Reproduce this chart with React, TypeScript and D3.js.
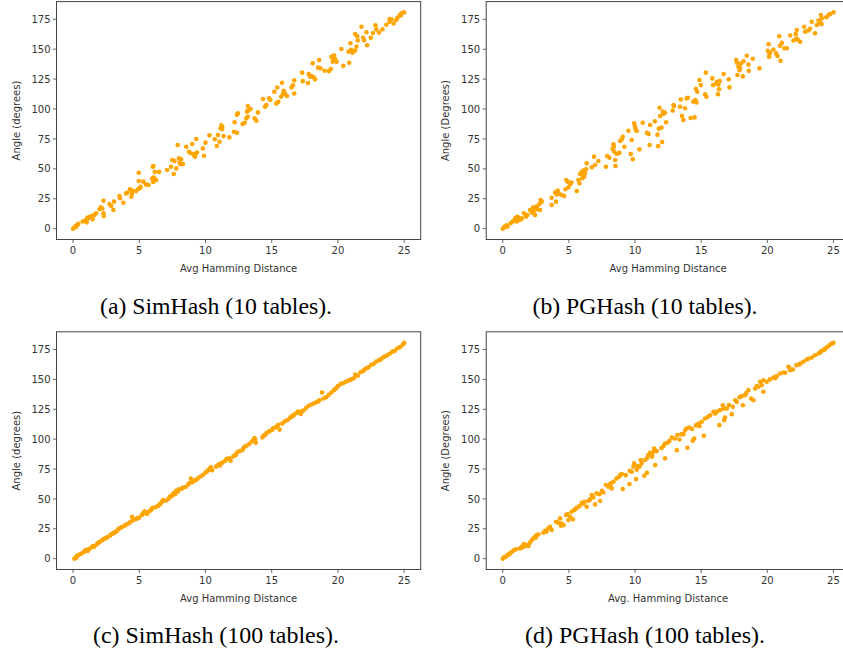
import React from "react";
import * as d3 from "d3";

// ---------- data ----------
const xTicks = [0, 5, 10, 15, 20, 25];
const yTicks = [0, 25, 50, 75, 100, 125, 150, 175];

const simHash10: [number, number][] = [
  [0, 0], [0.1, 1], [0.18, 2], [0.3, 3], [0.4, 4], [0.73, 6], [0.93, 7], [1.03, 5.3], [1.13, 8.4], [1.23, 9.8],
  [1.39, 10.6], [1.49, 7.8], [1.6, 11.4], [1.74, 12.8], [2, 16.2], [2.1, 17.8], [2.3, 23.4], [2.3, 12.8], [2.32, 10.6], [2.75, 20.6],
  [2.88, 19], [3.05, 15.6], [3.1, 22.6], [3.5, 27.3], [3.55, 25.4], [3.8, 21.7], [4, 29.5], [4.1, 30], [4.3, 33], [4.4, 26.7],
  [4.45, 29.5], [4.76, 31.5], [4.9, 33], [4.96, 46.8], [4.96, 39.8], [5.1, 35], [5.3, 39.3], [5.5, 37], [5.7, 36.5], [5.97, 42],
  [6.02, 51.8], [6.07, 52.4], [6.1, 42.8], [6.17, 47.5], [6.27, 40.6], [6.5, 47.5], [7.1, 49], [7.4, 51.8], [7.5, 57.4], [7.66, 56.5],
  [7.6, 45.7], [7.8, 50.4], [7.9, 69.9], [8.0, 58.8], [8.1, 54], [8.16, 58], [8.3, 54], [8.55, 68.5], [8.75, 64.3], [8.9, 63],
  [9, 70.8], [9.1, 62.1], [9.2, 60.2], [9.3, 75], [9.35, 63.6], [9.8, 67.1], [9.88, 61], [10, 71.9], [10.3, 78], [10.7, 74.7],
  [10.86, 69.1], [10.94, 78.3], [11.06, 72.7], [11.14, 83.9], [11.2, 86.4], [11.27, 85], [11.37, 77.4], [11.8, 76.3], [12.15, 81], [12.2, 88.9],
  [12.37, 95.3], [12.45, 96.4], [12.37, 80.2], [12.8, 87.5], [12.96, 88.6], [13.08, 92.2], [13.13, 97.8], [13.2, 102.5], [13.2, 93.6], [13.4, 100],
  [13.71, 92.2], [13.84, 90.3], [13.96, 97.2], [14.34, 108.4], [14.5, 102], [14.6, 103.3], [14.8, 108.9], [14.9, 107.5], [15.2, 114.5], [15.42, 118],
  [15.35, 104.7], [15.5, 106], [15.78, 122], [15.72, 110.3], [15.9, 115.3], [16, 113], [16.15, 110.9], [16.5, 118], [16.6, 119.8], [16.7, 124],
  [16.7, 113], [17.3, 130.4], [17.35, 123.3], [17.74, 121.7], [17.8, 129.3], [18, 127.6], [18.1, 138.2], [18.17, 126.5], [18.27, 124.8], [18.5, 134.6],
  [18.58, 140.9], [18.68, 134], [19, 132], [19.33, 131.7], [19.46, 133.4], [19.5, 143.7], [19.6, 139.5], [19.7, 145], [19.76, 142.4], [19.9, 139.6],
  [20.26, 150.2], [20.4, 136.1], [20.8, 148], [20.85, 138.7], [20.94, 155], [21, 149.5], [21.3, 162.7], [21.3, 148.9], [21.4, 152.2], [21.45, 160.9],
  [21.5, 157.3], [21.78, 168.8], [21.9, 159.5], [21.97, 157.6], [22.15, 164.1], [22.2, 153.3], [22.48, 159.5], [22.65, 163.5], [22.83, 170], [22.9, 166.6],
  [23.1, 163.9], [23.36, 166.6], [23.66, 170.5], [23.9, 173], [24.04, 175], [24.2, 171.5], [24.4, 174.4], [24.66, 178.6], [24.8, 180], [25, 180.8],
  [0.22, 1.5], [1.08, 9.1], [2.2, 16.9], [4.45, 31.8], [5.05, 34], [6.05, 39], [8.05, 55.5], [9.25, 62.5], [11.25, 83.2], [13.25, 99],
  [15.85, 112.5], [17.9, 127], [19.65, 142.3], [21.1, 147], [23.9, 175.2], [24.5, 176.3], [24.75, 178.2],
];

const pgHash10: [number, number][] = [
  [0, 0], [0.1, 1.1], [0.2, 2.2], [0.35, 1.7], [0.6, 4.5], [0.76, 6.1], [0.93, 8.6], [1.06, 6.1], [1.1, 10], [1.3, 7.2],
  [1.44, 8.6], [1.6, 12.8], [1.76, 10], [1.86, 11.4], [2.07, 15.6], [2.2, 13.4], [2.3, 17.8], [2.44, 11.4], [2.57, 18.4], [2.62, 16.2],
  [2.77, 20.6], [2.82, 15.6], [2.87, 24], [2.95, 22.6], [3.7, 25.9], [3.7, 19.8], [3.96, 30.1], [4.03, 22.6], [4.16, 31.8], [4.28, 29],
  [4.46, 28.1], [4.64, 27.3], [4.74, 32.9], [4.8, 40.7], [4.9, 39.3], [4.96, 34.6], [5.1, 37.3], [5.2, 38.5], [5.6, 31.5], [5.72, 40.7],
  [5.8, 37.9], [5.85, 45.7], [5.97, 47.6], [6.02, 42.1], [6.1, 48.5], [6.15, 43.5], [6.22, 46.3], [6.3, 49.6], [6.35, 54.6], [6.73, 51.3],
  [6.9, 60.2], [6.98, 53.2], [7.23, 56.6], [7.8, 51.8], [7.9, 60.7], [8.06, 59.3], [8.3, 66.6], [8.37, 70.5], [8.44, 64.3], [8.5, 57.4],
  [8.52, 52.4], [8.62, 62.4], [8.82, 63.5], [8.87, 73.3], [9, 74.7], [9.07, 76.9], [9.2, 68.5], [9.5, 81.9], [9.68, 62.4], [9.75, 74.1],
  [9.83, 58], [9.93, 88.1], [10, 85.3], [10.13, 81.6], [10.33, 66.3], [10.58, 88.6], [10.9, 80.2], [11.03, 79.1], [11.1, 69.9], [11.14, 86.7],
  [11.5, 89.7], [11.7, 78.6], [11.75, 69], [11.8, 83.6], [11.85, 101.1], [11.9, 94.1], [12, 84.5], [12.05, 72.4], [12.1, 97.8], [12.27, 96.9],
  [12.35, 88.9], [12.85, 98.7], [12.9, 103.4], [12.95, 102.5], [13.4, 101.9], [13.46, 108], [13.55, 94.2], [13.65, 90.8], [13.78, 100.6], [13.9, 108.9],
  [14, 109.4], [14.2, 92.5], [14.4, 106.2], [14.5, 93], [14.56, 107.6], [14.6, 116.8], [14.7, 114.5], [14.87, 124.3], [14.97, 120], [15.3, 112.3],
  [15.35, 130.4], [15.4, 110.3], [15.84, 125.6], [15.9, 120], [16.14, 121.4], [16.2, 122.8], [16.27, 112.3], [16.35, 116.5], [16.4, 123.3], [16.7, 129.3],
  [17.08, 124.8], [17.14, 118.1], [17.65, 141], [17.7, 138.7], [17.74, 128.4], [17.82, 135.3], [17.94, 134], [18, 138], [18.15, 127.3], [18.2, 140],
  [18.45, 144.6], [18.57, 137.1], [18.6, 131.9], [18.9, 142], [19.4, 134], [20.1, 154.2], [20.03, 148.7], [20.14, 143.7], [20.16, 146], [20.46, 149.8],
  [20.66, 146.5], [20.77, 144.3], [20.9, 160.9], [20.97, 153], [21, 140.4], [21.1, 155.3], [21.3, 150.8], [21.47, 150.8], [21.73, 161.5], [21.98, 157.3],
  [22.15, 162.7], [22.23, 166], [22.3, 157.9], [22.48, 156.2], [22.78, 168.8], [22.86, 164.7], [23.1, 165.6], [23.23, 167.1], [23.36, 173], [23.6, 163.3],
  [23.74, 170.3], [23.87, 173.9], [24, 172.2], [24.05, 178.6], [24.13, 175.8], [24.46, 176.7], [24.62, 178.6], [24.75, 179.4], [25, 180.8],
  [0.3, 2.8], [1.2, 9.2], [2.35, 14.8], [4.1, 28.5], [6.05, 44.8], [8.4, 68.5], [10.05, 83], [12.15, 96], [14.65, 105.5], [16.3, 120.6],
  [17.9, 132.5], [20.2, 147.5], [22.2, 159], [24.1, 171],
];

const simHash100: [number, number][] = [
  [0.1, 0], [0.2, 1], [0.3, 2.5], [0.4, 3], [0.6, 4], [0.8, 5.5], [0.9, 6.8], [1.0, 7.5], [1.1, 6.5], [1.2, 8],
  [1.4, 9.5], [1.5, 10.5], [1.6, 10], [1.8, 12], [1.9, 13.2], [2.0, 14], [2.2, 15.5], [2.3, 16.2], [2.5, 17.5], [2.6, 18],
  [2.8, 19.5], [2.9, 20.5], [3.0, 21], [3.1, 21.8], [3.2, 22.3], [3.3, 23], [3.4, 24.5], [3.5, 25.5], [3.7, 26.5], [3.9, 27.5],
  [4.0, 28.5], [4.2, 29.5], [4.3, 30.5], [4.45, 35], [4.5, 32], [4.7, 33], [4.9, 34], [5.0, 34.5], [5.2, 36.5], [5.3, 38],
  [5.4, 39.5], [5.5, 38], [5.6, 37.5], [5.8, 40], [5.9, 41], [6.0, 42.5], [6.2, 43], [6.4, 44], [6.6, 46], [6.7, 47.5],
  [6.8, 49], [7.0, 48.5], [7.2, 50], [7.3, 51.5], [7.5, 53], [7.6, 55], [7.7, 54], [7.8, 57], [7.9, 56], [8.0, 58],
  [8.2, 58.5], [8.5, 60], [8.7, 62], [8.8, 63.5], [8.9, 67], [9.0, 64], [9.2, 65.5], [9.4, 67], [9.6, 68.5], [9.8, 70],
  [10.0, 72], [10.1, 73], [10.3, 75], [10.4, 76.5], [10.5, 74], [10.8, 77], [11.0, 79], [11.1, 78], [11.3, 80.5], [11.5, 82],
  [11.6, 83.5], [11.8, 84], [11.9, 82], [12.1, 85.5], [12.3, 87], [12.4, 89], [12.6, 90], [12.8, 91], [12.9, 93], [13.0, 94],
  [13.3, 96], [13.5, 98], [13.6, 99], [13.7, 101], [13.8, 97], [14.3, 101.5], [14.5, 103.5], [14.6, 105], [14.8, 106.5], [15.0, 107.5],
  [15.1, 109], [15.3, 110], [15.5, 112], [15.6, 108], [15.8, 113], [16.0, 115], [16.2, 116], [16.4, 118], [16.5, 119], [16.7, 120.5],
  [16.9, 122], [17.0, 123], [17.2, 121], [17.4, 124], [17.6, 126], [17.8, 128], [18.0, 129], [18.2, 130], [18.4, 131], [18.6, 132.5],
  [18.8, 139], [18.9, 134], [19.1, 135], [19.3, 137], [19.5, 139], [19.7, 141], [19.9, 143], [20.0, 144.5], [20.2, 146], [20.4, 147],
  [20.6, 148], [20.8, 149], [21.0, 150], [21.2, 151], [21.3, 154], [21.5, 153], [21.7, 156], [21.9, 157], [22.1, 159], [22.3, 160],
  [22.5, 162], [22.7, 163], [22.9, 165], [23.1, 166], [23.3, 167.5], [23.5, 169], [23.7, 170], [23.9, 171.5], [24.1, 173], [24.3, 174],
  [24.5, 176], [24.7, 177], [24.9, 179], [25.0, 180.5],
  [0.25, 0.8], [1.05, 6.8], [2.4, 16.8], [3.6, 25.8], [4.8, 33.5], [5.5, 39], [6.5, 45], [7.4, 52.5], [8.3, 59.5], [9.3, 66],
  [10.2, 74], [11.2, 80], [12.2, 86.5], [13.1, 94.5], [13.75, 99.5], [14.4, 103], [15.4, 110.5], [16.6, 119.5], [17.3, 123.5], [18.5, 131.5],
  [19.8, 142], [20.9, 149.5], [22.0, 158], [23.2, 166.5], [24.2, 173.5],
];

const pgHash100: [number, number][] = [
  [0, 0], [0.1, 1.1], [0.25, 1.7], [0.35, 3], [0.55, 4.5], [0.7, 5.8], [0.86, 7.2], [1, 7.8], [1.3, 8.6], [1.44, 10],
  [1.6, 12.3], [1.7, 10.6], [1.8, 11.4], [1.94, 10.6], [2.07, 13.4], [2.2, 15.6], [2.32, 17], [2.44, 18.4], [2.57, 19.8], [2.7, 20.3],
  [3.07, 21.7], [3.2, 23.4], [3.45, 25.4], [3.58, 26.7], [3.7, 24], [4.03, 30.9], [4.2, 30], [4.33, 33.7], [4.46, 29.5], [4.6, 28.1],
  [4.79, 36.5], [4.9, 37.3], [4.96, 32.3], [5.1, 35.1], [5.2, 39.3], [5.3, 32.9], [5.4, 40.7], [5.6, 42.6], [5.8, 44], [5.97, 46.8],
  [6.2, 47.6], [6.35, 43.5], [6.6, 49.6], [6.73, 53.2], [6.85, 51.3], [6.98, 45.4], [7.1, 54.6], [7.36, 48.2], [7.5, 56.8], [7.6, 55.4],
  [7.8, 61.6], [8, 60.2], [8.16, 63], [8.24, 58.8], [8.37, 64.4], [8.6, 67.1], [8.87, 69.9], [9, 70.8], [9.07, 58.2], [9.3, 69.9],
  [9.58, 62.4], [9.75, 72.7], [9.88, 76.9], [9.93, 79.7], [10.08, 66.6], [10.13, 74.4], [10.33, 76.9], [10.43, 82.5], [10.5, 79.7], [10.7, 69.4],
  [10.76, 82.5], [10.9, 71.9], [11, 86.7], [11.14, 88.6], [11.26, 85.3], [11.4, 89.4], [11.44, 92.2], [11.52, 78.3], [11.64, 90], [12.15, 94.2],
  [12.27, 96.4], [12.27, 83.9], [12.45, 97], [12.78, 101.4], [13.16, 90.8], [13.2, 103.4], [13.36, 99.7], [13.66, 104.2], [13.78, 107.5], [13.96, 92.8],
  [13.9, 108.9], [14.1, 109.8], [14.36, 98.6], [14.47, 100.6], [14.8, 113.1], [14.87, 110.9], [15.04, 114.5], [15.2, 102.8], [15.3, 117.3], [15.68, 120],
  [15.93, 122.9], [16.05, 121.5], [16.38, 111.7], [16.43, 124.3], [16.63, 128.4], [16.73, 115.9], [16.8, 118.1], [16.94, 125.7], [17.31, 120.9], [17.39, 127],
  [17.57, 132.6], [17.69, 131.2], [18.15, 128.4], [18.07, 136], [18.32, 136.8], [18.57, 141], [18.77, 134], [18.95, 132.6], [19.08, 142.4], [19.33, 143.8],
  [19.46, 148], [19.58, 145.2], [19.7, 139.6], [19.7, 149.3], [19.96, 148], [20.2, 150], [20.46, 151.6], [20.7, 152.7], [20.97, 154.9], [21.35, 155.5],
  [21.6, 160.5], [21.72, 157.7], [21.93, 158.3], [22.2, 161.9], [22.5, 163.3], [22.73, 164.7], [22.98, 166.6], [23.36, 168.3], [23.6, 170.2], [23.87, 171.6],
  [24.1, 173.9], [24.37, 175.8], [24.55, 177.2], [24.7, 178.6], [24.87, 180], [25, 180.5],
  [0.5, 3.8], [1.5, 9.5], [2.5, 17.5], [3.3, 22.5], [4.4, 27.5], [5.5, 41.5], [6.1, 46], [6.5, 48.5], [7.3, 54], [8.1, 61.5],
  [8.8, 68.5], [9.6, 73.5], [10.2, 77.5], [10.9, 84], [11.3, 86], [12.0, 92.5], [12.6, 98.5], [13.0, 100.5], [13.5, 104], [14.3, 108.5],
  [14.6, 111.5], [15.5, 118.5], [16.2, 123], [16.7, 125.5], [17.1, 128.5], [17.9, 135], [18.4, 138.5], [19.2, 144.5], [20.6, 151], [21.2, 155.8],
  [21.75, 158.5], [22.4, 162.5], [23.1, 167.3], [24.0, 172.5], [24.3, 174.5],
];

const xDomain: [number, number] = [-1.25, 26.25];
const yDomain: [number, number] = [-9.04, 189.8];

type PanelDef = {
  data: [number, number][];
  left: number;
  right: number;
  top: number;
  bottom: number;
  yLabel: string;
  xLabel: string;
  yLabelX: number;
  caption: string;
  captionY: number;
  captionW: number;
};

const panels: PanelDef[] = [
  { data: simHash10, left: 56.5, right: 420.7, top: 1.6, bottom: 239.5, yLabel: "Angle (degrees)", xLabel: "Avg Hamming Distance", yLabelX: 16, caption: "(a) SimHash (10 tables).", captionY: 314, captionW: 232 },
  { data: pgHash10, left: 486.2, right: 850, top: 1.6, bottom: 239.5, yLabel: "Angle (Degrees)", xLabel: "Avg Hamming Distance", yLabelX: 445, caption: "(b) PGHash (10 tables).", captionY: 314, captionW: 225 },
  { data: simHash100, left: 56.5, right: 420.7, top: 331.8, bottom: 569.5, yLabel: "Angle (degrees)", xLabel: "Avg Hamming Distance", yLabelX: 16, caption: "(c) SimHash (100 tables).", captionY: 643, captionW: 246 },
  { data: pgHash100, left: 486.2, right: 850, top: 331.8, bottom: 569.5, yLabel: "Angle (Degrees)", xLabel: "Avg. Hamming Distance", yLabelX: 445, caption: "(d) PGHash (100 tables).", captionY: 643, captionW: 240 },
];

const FONT = "'DejaVu Sans', sans-serif";
const TEXT = "#333";
const AXIS = "#444";

function Panel({ p }: { p: PanelDef }) {
  const x = d3.scaleLinear().domain(xDomain).range([p.left, p.right]);
  const y = d3.scaleLinear().domain(yDomain).range([p.bottom, p.top]);
  const cx = (p.left + p.right) / 2;
  const cy = (p.top + p.bottom) / 2;
  const capX = p.left < 100 ? 216 : 645;
  return (
    <g>
      {p.data.map((d, i) => (
        <circle key={i} cx={x(d[0])} cy={y(d[1])} r={2.3} fill="#FFA500" />
      ))}
      <rect x={p.left} y={p.top} width={p.right - p.left} height={p.bottom - p.top} fill="none" stroke={AXIS} strokeWidth={1} />
      {xTicks.map((t) => (
        <g key={"x" + t}>
          <line x1={x(t)} x2={x(t)} y1={p.bottom} y2={p.bottom + 3.5} stroke={AXIS} strokeWidth={0.8} />
          <text x={x(t)} y={p.bottom + 14.5} textAnchor="middle" fontSize={10} fontFamily={FONT} fill={TEXT}>{t}</text>
        </g>
      ))}
      {yTicks.map((t) => (
        <g key={"y" + t}>
          <line x1={p.left - 3.5} x2={p.left} y1={y(t)} y2={y(t)} stroke={AXIS} strokeWidth={0.8} />
          <text x={p.left - 6} y={y(t) + 3.6} textAnchor="end" fontSize={10} fontFamily={FONT} fill={TEXT}>{t}</text>
        </g>
      ))}
      <text x={cx} y={p.bottom + 32} textAnchor="middle" fontSize={10} fontFamily={FONT} fill={TEXT}>{p.xLabel}</text>
      <text transform={`translate(${p.yLabelX + 3.5},${cy}) rotate(-90)`} textAnchor="middle" fontSize={10} fontFamily={FONT} fill={TEXT}>{p.yLabel}</text>
      <text x={capX - p.captionW / 2} y={p.captionY} textLength={p.captionW} lengthAdjust="spacingAndGlyphs" fontSize={24} fontFamily="'Liberation Serif', 'Times New Roman', serif" fill="#000">{p.caption}</text>
    </g>
  );
}

export default function App() {
  return (
    <svg width={843} height={649} style={{ position: "absolute", left: 0, top: 0, background: "#fff" }}>
      <rect x={0} y={0} width={843} height={649} fill="#fff" />
      {panels.map((p, i) => (
        <Panel key={i} p={p} />
      ))}
    </svg>
  );
}
